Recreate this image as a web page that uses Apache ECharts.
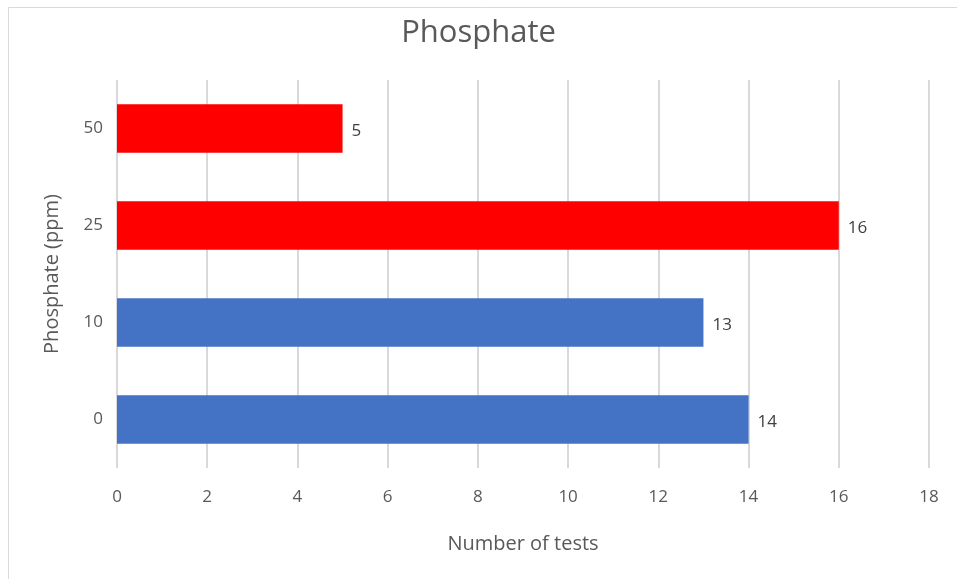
<!DOCTYPE html>
<html>
<head>
<meta charset="utf-8">
<script src="https://cdn.jsdelivr.net/npm/echarts@6/dist/echarts.min.js"></script>
<style>
  html, body { margin: 0; padding: 0; background: #fff; }
  #chart { width: 957px; height: 579px; }
</style>
</head>
<body>
<div id="chart"></div>
<script>
var categories = ['0', '10', '25', '50'];
var tests = [14, 13, 16, 5];
var barColors = ['#4472C4', '#4472C4', '#FF0000', '#FF0000'];

var myChart = echarts.init(document.getElementById('chart'));

var option = {
  backgroundColor: '#fff',
  textStyle: { fontFamily: 'Open Sans' },
  graphic: [{
    type: 'rect',
    shape: { x: 8.5, y: 7.5, width: 1000, height: 700 },
    style: { fill: 'none', stroke: '#d9d9d9', lineWidth: 1 },
    silent: true
  }],
  title: {
    text: 'Phosphate',
    left: 'center',
    top: 13,
    textStyle: { fontSize: 31, fontWeight: 'normal', color: '#595959', fontFamily: 'Open Sans' }
  },
  grid: { left: 117, right: 28, top: 80, bottom: 111 },
  xAxis: {
    type: 'value',
    min: 0,
    max: 18,
    interval: 2,
    name: 'Number of tests',
    nameLocation: 'middle',
    nameGap: 66,
    nameTextStyle: { fontSize: 20, color: '#595959' },
    axisLine: { show: false },
    axisTick: { show: false },
    axisLabel: { fontSize: 17, color: '#595959', margin: 21 },
    splitLine: { lineStyle: { color: '#d9d9d9', width: 2 } }
  },
  yAxis: {
    type: 'category',
    data: categories,
    name: 'Phosphate (ppm)',
    nameLocation: 'middle',
    nameGap: 55,
    nameRotate: 90,
    nameTextStyle: { fontSize: 20, color: '#595959' },
    axisLine: { show: false },
    axisTick: { show: false },
    axisLabel: { fontSize: 17, color: '#595959', margin: 14, padding: [6, 0, 0, 0] }
  },
  series: [{
    type: 'bar',
    data: tests.map(function (v, i) {
      return { value: v, itemStyle: { color: barColors[i] } };
    }),
    barCategoryGap: '50%',
    label: {
      show: true,
      position: 'right',
      distance: 9,
      offset: [0, 3],
      fontSize: 17,
      color: '#404040'
    }
  }]
};

myChart.setOption(option);
window.addEventListener('resize', myChart.resize);
</script>
</body>
</html>
